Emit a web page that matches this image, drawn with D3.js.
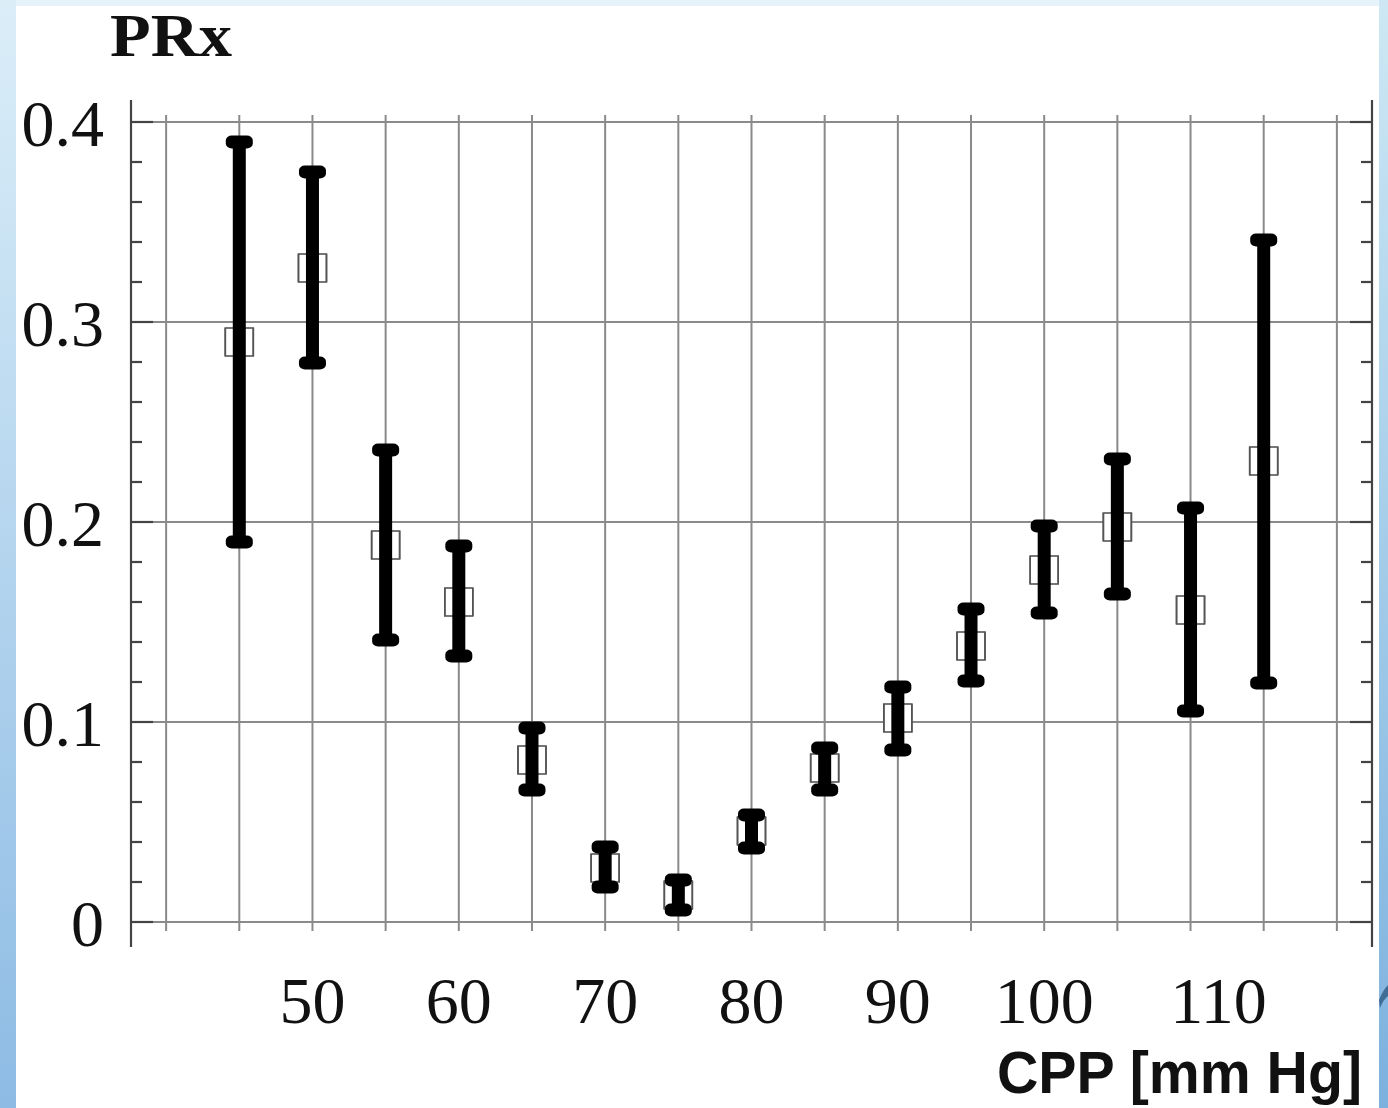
<!DOCTYPE html>
<html><head><meta charset="utf-8">
<script src="https://cdn.jsdelivr.net/npm/d3@7/dist/d3.min.js"></script>
<style>html,body{margin:0;padding:0;background:#fff;}svg{display:block;}</style>
</head><body>
<script>
// Data
const cpp   = [45, 50, 55, 60, 65, 70, 75, 80, 85, 90, 95, 100, 105, 110, 115];
const prxMean  = [0.290, 0.327, 0.1885, 0.160, 0.081, 0.027, 0.0135, 0.0455, 0.077, 0.102, 0.138, 0.176, 0.1975, 0.156, 0.2305];
const prxUpper = [0.390, 0.375, 0.236, 0.188, 0.097, 0.0375, 0.021, 0.0535, 0.087, 0.1175, 0.1565, 0.198, 0.2315, 0.207, 0.341];
const prxLower = [0.190, 0.2795, 0.141, 0.133, 0.066, 0.0175, 0.006, 0.037, 0.066, 0.086, 0.1205, 0.1545, 0.164, 0.1055, 0.1195];
const xTickLabels = [50, 60, 70, 80, 90, 100, 110];
const yTickLabels = [0, 0.1, 0.2, 0.3, 0.4];
const xGrid = [40, 45, 50, 55, 60, 65, 70, 75, 80, 85, 90, 95, 100, 105, 110, 115, 120];
const yMinor = [0.02, 0.04, 0.06, 0.08, 0.12, 0.14, 0.16, 0.18, 0.22, 0.24, 0.26, 0.28, 0.32, 0.34, 0.36, 0.38];

const W = 1388, H = 1108;
const svg = d3.select("body").append("svg").attr("width", W).attr("height", H);

// slide-like background
const defs = svg.append("defs");
const gl = defs.append("linearGradient").attr("id","gl").attr("x1",0).attr("y1",0).attr("x2",0).attr("y2",1);
gl.append("stop").attr("offset","0").attr("stop-color","#dbeef8");
gl.append("stop").attr("offset","1").attr("stop-color","#8dbbe4");
const gr = defs.append("linearGradient").attr("id","gr").attr("x1",0).attr("y1",0).attr("x2",0).attr("y2",1);
gr.append("stop").attr("offset","0").attr("stop-color","#cde8f4");
gr.append("stop").attr("offset","1").attr("stop-color","#7cb1de");
svg.append("rect").attr("x",0).attr("y",0).attr("width",W).attr("height",H).attr("fill","#e6f3fa");
svg.append("rect").attr("x",0).attr("y",0).attr("width",16).attr("height",H).attr("fill","url(#gl)");
svg.append("rect").attr("x",1379).attr("y",0).attr("width",9).attr("height",H).attr("fill","url(#gr)");
svg.append("rect").attr("x",16).attr("y",6).attr("width",1363).attr("height",H-6).attr("fill","#ffffff");
svg.append("path").attr("d","M1379,1000 Q1383,990 1388,985 L1388,996 Q1383,1000 1380,1008 Z").attr("fill","#3f6d96");

// scales
const x = d3.scaleLinear().domain([37.6, 122.4]).range([131, 1372]);
const y = d3.scaleLinear().domain([0, 0.4]).range([922, 122]);
const yTop = 100, yBot = 947;

const grid = svg.append("g");
// vertical grid
grid.selectAll("line.vg").data(xGrid).join("line")
  .attr("x1", d => x(d)).attr("x2", d => x(d))
  .attr("y1", 115).attr("y2", 931)
  .attr("stroke", "#8a8a8a").attr("stroke-width", 2);
// horizontal grid
grid.selectAll("line.hg").data(yTickLabels).join("line")
  .attr("x1", x.range()[0]).attr("x2", x.range()[1])
  .attr("y1", d => y(d)).attr("y2", d => y(d))
  .attr("stroke", "#8a8a8a").attr("stroke-width", 2);

// axes (left and right frame lines with ticks)
const axG = svg.append("g").attr("stroke", "#444").attr("stroke-width", 2.2);
[131, 1372].forEach(xx => axG.append("line").attr("x1", xx).attr("x2", xx).attr("y1", yTop).attr("y2", yBot));
axG.selectAll("line.lmaj").data(yTickLabels).join("line")
  .attr("x1", 131).attr("x2", 153).attr("y1", d => y(d)).attr("y2", d => y(d));
axG.selectAll("line.rmaj").data(yTickLabels).join("line")
  .attr("x1", 1350).attr("x2", 1372).attr("y1", d => y(d)).attr("y2", d => y(d));
axG.selectAll("line.lmin").data(yMinor).join("line")
  .attr("x1", 131).attr("x2", 142).attr("y1", d => y(d)).attr("y2", d => y(d));
axG.selectAll("line.rmin").data(yMinor).join("line")
  .attr("x1", 1361).attr("x2", 1372).attr("y1", d => y(d)).attr("y2", d => y(d));

// tick labels
svg.append("g").selectAll("text").data(yTickLabels).join("text")
  .attr("x", 104).attr("y", d => y(d)).attr("dy", "0.36em")
  .attr("text-anchor", "end")
  .attr("font-family", "'Liberation Serif', 'Times New Roman', serif")
  .attr("font-size", 66).attr("fill", "#111")
  .text(d => d === 0 ? "0" : d3.format(".1f")(d));

svg.append("g").selectAll("text").data(xTickLabels).join("text")
  .attr("x", d => x(d) + (d === 110 ? 28 : 0)).attr("y", 1023)
  .attr("text-anchor", "middle")
  .attr("font-family", "'Liberation Serif', 'Times New Roman', serif")
  .attr("font-size", 66).attr("fill", "#111")
  .text(d => d);

// axis titles
svg.append("text").attr("x", 110).attr("y", 56)
  .attr("font-family", "'Liberation Serif', 'Times New Roman', serif")
  .attr("font-weight", "bold").attr("font-size", 62).attr("fill", "#111")
  .attr("textLength", 122).attr("lengthAdjust", "spacingAndGlyphs")
  .text("PRx");
svg.append("text").attr("x", 997).attr("y", 1093)
  .attr("font-family", "'Liberation Sans', Arial, sans-serif")
  .attr("font-weight", "bold").attr("font-size", 60).attr("fill", "#111")
  .attr("textLength", 365).attr("lengthAdjust", "spacingAndGlyphs")
  .text("CPP [mm Hg]");

// data
const data = cpp.map((c, i) => ({c, m: prxMean[i], u: prxUpper[i], l: prxLower[i]}));
const marks = svg.append("g");
// mean markers (open squares)
marks.selectAll("rect.m").data(data).join("rect")
  .attr("x", d => x(d.c) - 14).attr("y", d => y(d.m) - 14)
  .attr("width", 28).attr("height", 28)
  .attr("fill", "#fff").attr("stroke", "#555").attr("stroke-width", 1.6);
// stems
marks.selectAll("line.s").data(data).join("line")
  .attr("x1", d => x(d.c)).attr("x2", d => x(d.c))
  .attr("y1", d => y(d.u)).attr("y2", d => y(d.l))
  .attr("stroke", "#000").attr("stroke-width", 13);
// caps
const caps = data.flatMap(d => [{c: d.c, v: d.u}, {c: d.c, v: d.l}]);
marks.selectAll("rect.c").data(caps).join("rect")
  .attr("x", d => x(d.c) - 13.5).attr("y", d => y(d.v) - 6.5)
  .attr("width", 27).attr("height", 13).attr("rx", 6).attr("ry", 5)
  .attr("fill", "#000");
// square outline sides visible over stems
marks.selectAll("path.o").data(data).join("path")
  .attr("d", d => {
    const cx = x(d.c), cy = y(d.m);
    return `M${cx-14},${cy-14}V${cy+14}M${cx+14},${cy-14}V${cy+14}`;
  })
  .attr("stroke", "#555").attr("stroke-width", 1.6).attr("fill", "none");
</script>
</body></html>
